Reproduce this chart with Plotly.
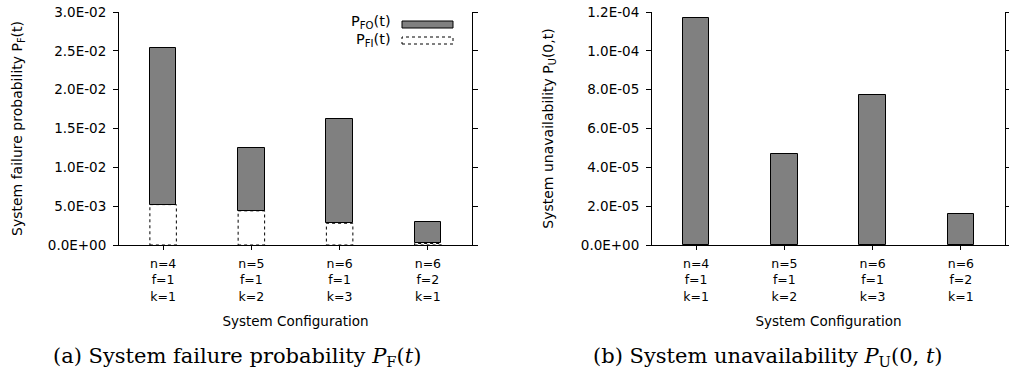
import plotly.graph_objects as go

# ---------------- data ----------------
configs = ["n=4<br>f=1<br>k=1", "n=5<br>f=1<br>k=2", "n=6<br>f=1<br>k=3", "n=6<br>f=2<br>k=1"]
p_fi = [0.0052, 0.0044, 0.0028, 0.0002]          # P_FI(t)
p_fo = [0.0202, 0.0081, 0.0134, 0.0028]          # P_FO(t), stacked on top of P_FI
p_u = [1.167e-4, 4.67e-5, 7.73e-5, 1.58e-5]      # P_U(0,t)

left_tickvals = [0, 0.005, 0.01, 0.015, 0.02, 0.025, 0.03]
left_ticktext = ["0.0E+00", "5.0E-03", "1.0E-02", "1.5E-02", "2.0E-02", "2.5E-02", "3.0E-02"]
right_tickvals = [0, 2e-5, 4e-5, 6e-5, 8e-5, 1e-4, 1.2e-4]
right_ticktext = ["0.0E+00", "2.0E-05", "4.0E-05", "6.0E-05", "8.0E-05", "1.0E-04", "1.2E-04"]

# ---------------- styling ----------------
W, H = 1009, 371
GRAY = "#808080"
SANS = "DejaVu Sans"
SERIF = "DejaVu Serif"
BAR_W = 0.30
xpos = list(range(len(configs)))

def px_x(p):
    return p / W

def px_y(p):
    return 1 - p / H

fig = go.Figure()

fig.add_trace(go.Bar(x=xpos, y=p_fi, width=BAR_W, marker=dict(color="white", line=dict(color="white", width=0)),
                     xaxis="x", yaxis="y", showlegend=False, hoverinfo="skip"))
fig.add_trace(go.Bar(x=xpos, y=p_fo, base=p_fi, width=BAR_W,
                     marker=dict(color=GRAY, line=dict(color="black", width=1)),
                     xaxis="x", yaxis="y", showlegend=False, hoverinfo="skip"))
fig.add_trace(go.Bar(x=xpos, y=p_u, width=BAR_W,
                     marker=dict(color=GRAY, line=dict(color="black", width=1)),
                     xaxis="x2", yaxis="y2", showlegend=False, hoverinfo="skip"))

# dashed outlines for P_FI bars
shapes = []
for xi, v in zip(xpos, p_fi):
    shapes.append(dict(type="rect", xref="x", yref="y", x0=xi - BAR_W / 2, x1=xi + BAR_W / 2, y0=0, y1=v,
                       line=dict(color="black", width=1, dash="dot"), fillcolor="rgba(0,0,0,0)"))

# legend (drawn manually: text left of swatch like gnuplot)
shapes.append(dict(type="rect", xref="paper", yref="paper", x0=px_x(402), x1=px_x(453),
                   y0=px_y(28), y1=px_y(21), line=dict(color="black", width=1), fillcolor=GRAY))
shapes.append(dict(type="rect", xref="paper", yref="paper", x0=px_x(402), x1=px_x(453),
                   y0=px_y(44), y1=px_y(37), line=dict(color="black", width=1, dash="dot"), fillcolor="white"))

legfont = dict(family=SANS, size=14.5, color="black")
annotations = [
    dict(text="P<sub>FO</sub>(t)", x=px_x(393), y=px_y(22), xref="paper", yref="paper",
         xanchor="right", yanchor="middle", showarrow=False, font=legfont),
    dict(text="P<sub>FI</sub>(t)", x=px_x(393), y=px_y(40), xref="paper", yref="paper",
         xanchor="right", yanchor="middle", showarrow=False, font=legfont),
    dict(text="(a) System failure probability <i>P</i><sub>F</sub>(<i>t</i>)", x=px_x(237), y=px_y(357),
         xref="paper", yref="paper", xanchor="center", yanchor="middle", showarrow=False,
         font=dict(family=SERIF, size=21, color="black")),
    dict(text="(b) System unavailability <i>P</i><sub>U</sub>(0, <i>t</i>)", x=px_x(768), y=px_y(357),
         xref="paper", yref="paper", xanchor="center", yanchor="middle", showarrow=False,
         font=dict(family=SERIF, size=21, color="black")),
]

xtickfont = dict(family=SANS, size=12.5, color="black")
ytickfont = dict(family=SANS, size=13.5, color="black")
xtitlefont = dict(family=SANS, size=13.5, color="black")
ytitlefont = dict(family=SANS, size=14, color="black")

xcommon = dict(range=[-0.5, 3.5], tickmode="array", tickvals=xpos, ticktext=configs,
               showline=True, linecolor="black", linewidth=1, ticks="outside", ticklen=4,
               tickcolor="black", showgrid=False, zeroline=False, mirror=False, tickfont=xtickfont,
               ticklabelstandoff=3, fixedrange=True, automargin=False)
ycommon = dict(showline=True, linecolor="black", linewidth=1, ticks="outside", ticklen=5,
               tickcolor="black", showgrid=False, zeroline=False, mirror="ticks", tickfont=ytickfont,
               tickmode="array", ticklabelstandoff=4, fixedrange=True, automargin=False)

ydom = [px_y(245), px_y(12)]

fig.update_layout(
    width=W, height=H, autosize=False,
    margin=dict(l=0, r=0, t=0, b=0, autoexpand=False),
    paper_bgcolor="white", plot_bgcolor="white",
    font=dict(family=SANS, color="black"),
    barmode="overlay",
    bargap=0,
    xaxis=dict(domain=[px_x(119), px_x(472)], anchor="y",
               title=dict(text="System Configuration", font=xtitlefont, standoff=14), **xcommon),
    yaxis=dict(domain=ydom, anchor="x", range=[0, 0.03], tickvals=left_tickvals, ticktext=left_ticktext,
               title=dict(text="System failure probability P<sub>F</sub>(t)", font=ytitlefont, standoff=21),
               **ycommon),
    xaxis2=dict(domain=[px_x(652), px_x(1005)], anchor="y2",
                title=dict(text="System Configuration", font=xtitlefont, standoff=14), **xcommon),
    yaxis2=dict(domain=ydom, anchor="x2", range=[0, 1.2e-4], tickvals=right_tickvals, ticktext=right_ticktext,
                title=dict(text="System unavailability P<sub>U</sub>(0,t)", font=ytitlefont, standoff=23),
                **ycommon),
    shapes=shapes,
    annotations=annotations,
    showlegend=False,
)

# remove the default page margin so the 1009x371 figure fills the window exactly
fig.write_html("out.html", config={"displayModeBar": False},
               post_script="document.body.style.margin='0';document.body.style.overflow='hidden';")
